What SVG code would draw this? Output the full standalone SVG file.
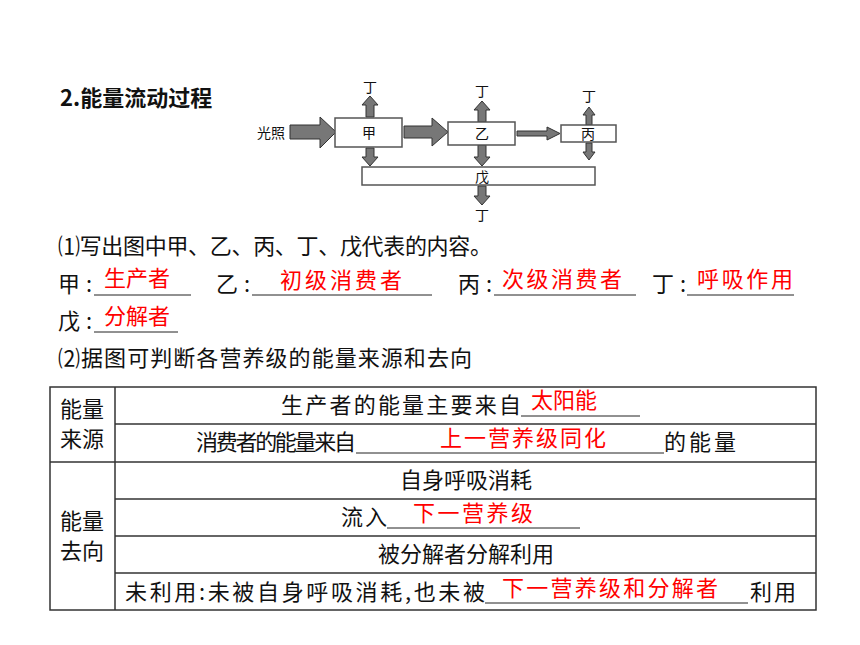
<svg xmlns="http://www.w3.org/2000/svg" width="860" height="645" viewBox="0 0 860 645">
<style>
text{font-family:"Noto Sans CJK SC","Liberation Sans",sans-serif;fill:#111}
.t{font-size:22px}
.r{font-size:22px;fill:#f00}
.s{font-size:14px}
.b{fill:#fff;stroke:#555;stroke-width:1.5}
.a{fill:#777;stroke:#333;stroke-width:1}
.u{stroke:#222;stroke-width:1}
.g{stroke:#333;stroke-width:1.5;fill:none}
</style>
<rect width="860" height="645" fill="#fff"/>
<text x="60" y="106" class="t" font-weight="bold">2.能量流动过程</text>
<g id="connectors">
<polygon class="a" points="290,125 320,125 320,117 336,132 320,148 320,139 290,139"/>
<polygon class="a" points="404,126 432,126 432,118 448,132 432,146 432,138 404,138"/>
<polygon class="a" points="517,131 547,131 547,127 560,133.5 547,140 547,136 517,136"/>
<polygon class="a" points="366,117 366,105 362,105 370,96 378,105 374,105 374,117"/>
<polygon class="a" points="478,122 478,110 474,110 482,101 490,110 486,110 486,122"/>
<polygon class="a" points="586,125 586,115 583,115 589,107 595,115 592,115 592,125"/>
<polygon class="a" points="366,148 366,157 362,157 370,166 378,157 374,157 374,148"/>
<polygon class="a" points="478,145 478,157 474,157 482,166 490,157 486,157 486,145"/>
<polygon class="a" points="586,143 586,152 583,152 589,160 595,152 592,152 592,143"/>
<polygon class="a" points="478,186 478,196 474,196 482,205 490,196 486,196 486,186"/>
</g>
<text x="257" y="138" class="s">光照</text>
<text x="363" y="92" class="s">丁</text>
<text x="475" y="96" class="s">丁</text>
<text x="582" y="101" class="s">丁</text>
<text x="475" y="220" class="s">丁</text>
<g id="jia"><rect class="b" x="335" y="118" width="67" height="29"/><text x="369" y="138" class="s" text-anchor="middle">甲</text></g>
<g id="yi"><rect class="b" x="448" y="122" width="67" height="23"/><text x="482" y="139" class="s" text-anchor="middle">乙</text></g>
<g id="bing"><rect class="b" x="561" y="125" width="55" height="17"/><text x="588" y="139" class="s" text-anchor="middle">丙</text></g>
<g id="wu"><rect class="b" x="362" y="167" width="233" height="18"/><text x="482" y="182" class="s" text-anchor="middle">戊</text></g>

<text x="58" y="254" class="t" textLength="434">⑴写出图中甲、乙、丙、丁、戊代表的内容。</text>
<text x="58" y="292" class="t" textLength="34">甲:</text>
<line class="u" x1="94" y1="295" x2="191" y2="295"/>
<text x="104" y="286" class="r">生产者</text>
<text x="216" y="292" class="t" textLength="34">乙:</text>
<line class="u" x1="252" y1="295" x2="432" y2="295"/>
<text x="280" y="288" class="r" textLength="122">初级消费者</text>
<text x="458" y="292" class="t" textLength="34">丙:</text>
<line class="u" x1="494" y1="295" x2="636" y2="295"/>
<text x="502" y="287" class="r" textLength="120">次级消费者</text>
<text x="652" y="292" class="t" textLength="34">丁:</text>
<line class="u" x1="687" y1="295" x2="794" y2="295"/>
<text x="697" y="287" class="r" textLength="96">呼吸作用</text>
<text x="58" y="329" class="t" textLength="34">戊:</text>
<line class="u" x1="94" y1="332" x2="178" y2="332"/>
<text x="104" y="324" class="r">分解者</text>
<text x="58" y="366" class="t" textLength="414">⑵据图可判断各营养级的能量来源和去向</text>

<g id="table">
<rect class="g" x="50" y="387" width="766" height="223"/>
<line class="g" x1="115" y1="387" x2="115" y2="610"/>
<line class="g" x1="115" y1="424" x2="816" y2="424"/>
<line class="g" x1="50" y1="462" x2="816" y2="462"/>
<line class="g" x1="115" y1="499" x2="816" y2="499"/>
<line class="g" x1="115" y1="536" x2="816" y2="536"/>
<line class="g" x1="115" y1="573" x2="816" y2="573"/>
<text x="60" y="417" class="t">能量</text>
<text x="60" y="447" class="t">来源</text>
<text x="60" y="529" class="t">能量</text>
<text x="60" y="559" class="t">去向</text>
<text x="281" y="413" class="t" textLength="240">生产者的能量主要来自</text>
<line class="u" x1="521" y1="416" x2="640" y2="416"/>
<text x="531" y="408" class="r">太阳能</text>
<text x="196" y="450" class="t" textLength="160">消费者的能量来自</text>
<line class="u" x1="356" y1="453" x2="664" y2="453"/>
<text x="440" y="446" class="r" textLength="166">上一营养级同化</text>
<text x="664" y="450" class="t" textLength="72">的能量</text>
<text x="466" y="488" class="t" text-anchor="middle">自身呼吸消耗</text>
<text x="341" y="525" class="t" textLength="46">流入</text>
<line class="u" x1="387" y1="528" x2="580" y2="528"/>
<text x="413" y="521" class="r" textLength="120">下一营养级</text>
<text x="466" y="562" class="t" text-anchor="middle">被分解者分解利用</text>
<text x="125" y="600" class="t" textLength="360">未利用:未被自身呼吸消耗,也未被</text>
<line class="u" x1="485" y1="603" x2="748" y2="603"/>
<text x="502" y="596" class="r" textLength="216">下一营养级和分解者</text>
<text x="750" y="600" class="t" textLength="46">利用</text>
</g>
</svg>
